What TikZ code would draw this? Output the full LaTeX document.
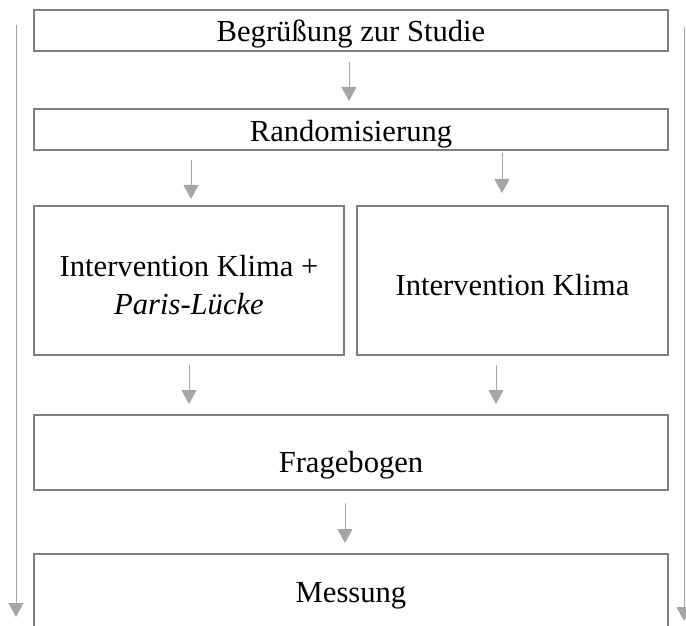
\documentclass[tikz,border=0pt]{standalone}
\usepackage{fontspec}
\setmainfont{Liberation Serif}
\usetikzlibrary{arrows.meta,positioning}
\definecolor{boxGray}{HTML}{7F7F7F}
\definecolor{arrowGray}{HTML}{A6A6A6}

\begin{document}
\begin{tikzpicture}[x=0.5pt,y=-0.5pt,
  stage/.style={draw=boxGray,line width=1pt,fill=white,align=center,inner sep=2pt,outer sep=0pt,
    font=\fontsize{15.3}{19}\selectfont},
  oneline/.style={text height=#1,text depth=0pt},
  flow/.style={draw=arrowGray,line width=.5pt,-{Triangle[length=7pt,width=7.5pt]}}]
  \useasboundingbox (0,0) rectangle (686,626);
  \clip (0,0) rectangle (686,626);

  % stages of the study
  \node[stage,oneline=11.5pt,minimum width=317pt,minimum height=20.5pt] (welcome) at (351,30.5) {Begrüßung zur Studie};
  \node[stage,oneline=11.5pt,minimum width=317pt,minimum height=20.5pt,below=29pt of welcome] (random) {Randomisierung};
  \node[stage,minimum width=155pt,minimum height=74.5pt,below=28pt of random.south west,anchor=north west] (paris) {\rule{0pt}{15pt}Intervention Klima +\\\textit{Paris-Lücke}};
  \node[stage,oneline=15pt,minimum width=155.5pt,minimum height=74.5pt,right=6.5pt of paris] (klima) {Intervention Klima};
  \node[stage,oneline=20pt,minimum width=317pt,minimum height=37.5pt,below=30pt of paris.south west,anchor=north west] (fragen) {Fragebogen};
  \node[stage,oneline=11pt,minimum width=317pt,minimum height=37.5pt,below=32pt of fragen] (messung) {Messung};

  % arrows between stages
  \draw[flow,shorten <=5.5pt,shorten >=4pt] ([xshift=-1pt]welcome.south) -- ([xshift=-1pt]random.north);
  \draw[flow,shorten <=5pt,shorten >=3.5pt] ([xshift=-80pt]random.south) -- ([xshift=1pt]paris.north);
  \draw[flow,shorten <=1.5pt,shorten >=6.5pt] ([xshift=75.5pt]random.south) -- ([xshift=-5.25pt]klima.north);
  \draw[flow,shorten <=5pt,shorten >=5.5pt] (paris.south) -- ([xshift=-81pt]fragen.north);
  \draw[flow,shorten <=5pt,shorten >=5.5pt] ([xshift=-8.25pt]klima.south) -- ([xshift=72.5pt]fragen.north);
  \draw[flow,shorten <=6.5pt,shorten >=5.5pt] ([xshift=-3pt]fragen.south) -- ([xshift=-3pt]messung.north);

  % time axes on both sides
  \coordinate (leftTop) at (16,25);
  \coordinate (leftEnd) at (16,617);
  \coordinate (rightTop) at (684,27);
  \coordinate (rightEnd) at (684,621);
  \draw[flow] (leftTop) -- (leftEnd);
  \draw[flow] (rightTop) -- (rightEnd);
\end{tikzpicture}
\end{document}
